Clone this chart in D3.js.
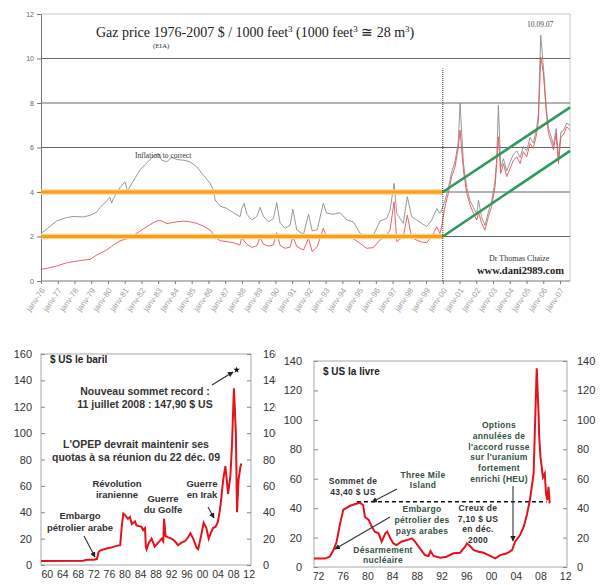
<!DOCTYPE html>
<html>
<head>
<meta charset="utf-8">
<script src="https://cdn.jsdelivr.net/npm/d3@7"></script>
<style>
  body { margin: 0; background: #fff; }
  svg { display: block; }
</style>
</head>
<body>
<svg id="chart" width="604" height="585"></svg>
<script>
// ---- Données : gaz naturel (EIA) 1976-2007, $ / 1000 pieds3 ----
const gasDates = [1976.00,1976.40,1976.94,1977.53,1977.93,1978.53,1978.93,1979.33,1979.53,1979.92,
  1980.12,1980.22,1980.32,1980.72,1981.02,1981.16,1981.52,1981.92,1982.31,1982.71,
  1983.01,1983.21,1983.51,1983.81,1984.11,1984.51,1984.90,1985.30,1985.70,1986.10,
  1986.30,1986.40,1986.70,1987.10,1987.49,1987.89,1987.99,1988.13,1988.30,1988.59,
  1988.89,1989.09,1989.29,1989.59,1989.88,1990.08,1990.28,1990.58,1990.88,1991.04,
  1991.28,1991.68,1991.98,1992.20,1992.50,1992.86,1993.06,1993.46,1993.86,1994.26,
  1994.66,1995.06,1995.45,1995.85,1996.25,1996.65,1996.85,1997.09,1997.25,1997.64,
  1997.88,1998.14,1998.44,1998.74,1999.04,1999.34,1999.64,1999.83,1999.93,2000.13,
  2000.33,2000.53,2000.73,2000.93,2001.03,2001.23,2001.43,2001.63,2001.83,2002.03,
  2002.13,2002.32,2002.52,2002.72,2002.92,2003.12,2003.22,2003.32,2003.46,2003.62,
  2003.82,2004.02,2004.22,2004.42,2004.62,2004.81,2005.01,2005.21,2005.41,2005.61,
  2005.71,2005.85,2006.01,2006.17,2006.31,2006.51,2006.61,2006.77,2006.91,2007.05,
  2007.20,2007.40,2007.60];
// prix corrigé de l'inflation (courbe grise)
const gasReal = [2.14,2.37,2.70,2.85,2.90,2.88,2.95,3.10,3.30,3.60,
  3.75,3.50,3.70,4.20,4.45,4.05,4.50,5.00,5.30,5.60,
  5.73,5.43,5.36,5.55,5.46,5.43,5.36,5.13,4.76,4.39,
  4.09,3.64,3.37,3.26,3.07,2.89,3.26,3.49,3.00,2.74,
  2.90,3.31,2.90,2.66,2.80,3.52,2.60,2.37,2.50,3.22,
  2.29,2.10,3.00,2.25,2.30,3.49,3.05,3.00,3.07,2.75,
  2.66,2.14,1.99,2.05,2.70,2.81,3.19,4.39,3.04,2.59,
  3.79,2.89,2.74,2.59,2.45,2.74,3.26,3.04,3.20,3.60,
  4.20,4.90,5.35,6.30,8.00,5.30,4.20,3.60,3.30,3.00,
  3.64,2.85,2.50,3.10,3.60,4.50,5.50,7.90,5.10,5.50,
  4.95,5.35,5.70,5.85,5.55,6.05,5.85,6.45,6.20,6.90,
  7.50,11.05,9.60,7.90,6.85,6.40,6.10,6.85,5.50,6.70,
  6.75,7.10,7.00];
// prix courant (courbe rouge)
const gasNominal = [0.52,0.58,0.67,0.82,0.87,0.94,0.97,1.17,1.25,1.39,
  1.50,1.55,1.62,1.80,1.88,1.90,2.05,2.25,2.44,2.62,
  2.72,2.70,2.58,2.62,2.66,2.69,2.66,2.59,2.47,2.29,
  2.10,1.96,1.81,1.77,1.72,1.62,2.00,1.80,1.65,1.51,
  1.58,1.95,1.65,1.57,1.62,2.17,1.60,1.47,1.52,1.99,
  1.55,1.39,1.92,1.32,1.55,2.37,1.99,1.92,2.02,1.95,
  1.90,1.69,1.47,1.50,1.84,2.07,2.30,3.56,1.77,1.99,
  2.96,1.95,1.84,1.75,1.72,2.00,2.44,2.14,2.44,3.34,
  3.94,4.69,5.13,6.03,6.78,4.99,3.94,3.41,3.04,2.74,
  3.10,2.59,2.29,2.89,3.34,4.24,5.28,6.48,4.83,5.28,
  4.69,5.06,5.43,5.58,5.28,5.81,5.58,6.18,5.96,6.63,
  7.23,10.07,9.33,7.68,6.63,6.18,5.88,6.63,5.28,6.48,
  6.56,6.93,6.78];
const gasTickYears = d3.range(1976, 2008);
const gasYTicks = [0, 2, 4, 6, 8, 10, 12];
const gasBands = [2, 4];                       // lignes orange
const gasChannelTop = [[2000, 4], [2007.6, 7.8]];   // canal vert
const gasChannelLow = [[2000, 2], [2007.6, 5.85]];

// ---- Pétrole, $ US le baril ----
const oilYears = [1958.5,1969.4,1970.3,1972.0,1972.9,1973.3,1973.7,1975.4,1976.3,1978.0,
  1978.9,1979.3,1979.7,1980.1,1980.9,1981.4,1981.9,1982.7,1983.1,1984.4,
  1984.8,1985.3,1985.5,1985.7,1986.3,1987.0,1987.8,1988.7,1989.6,1990.0,
  1990.2,1990.6,1991.3,1992.1,1993.0,1993.8,1994.7,1995.6,1996.4,1997.0,
  1997.7,1998.6,1999.0,1999.8,2000.4,2001.1,2001.7,2002.2,2002.8,2003.5,
  2004.1,2004.6,2005.0,2005.4,2006.0,2006.7,2007.3,2007.7,2008.2,2008.7,
  2009.0,2009.4,2009.9,2010.1];
const oilPrice = [3.0,3.2,4.0,4.0,4.5,9.5,11,12.5,13,14.5,
  15,29,39,38,35,36.5,31,33,30,29,
  26.5,28,14,12,17,20,14,17,20,18,
  35,22,21,20,18,15,17,18,21,24,
  20,13,12,23,32,28,20,24,28,29,
  33,42,52,64,75,54,68,91,134,100,
  40,65,75,77];
const oilRecord = [2008.9, 147.9];
const oilYTicks = [0, 20, 40, 60, 80, 100, 120, 140, 160];
const oilXTicks = d3.range(1960, 2013, 4);

// ---- Uranium, $ US la livre ----
const uraniumYears = [1971.35,1973.1,1973.9,1974.5,1975.0,1975.6,1976.1,1977.2,1978.3,1978.8,
  1979.3,1979.6,1980.2,1980.7,1981.2,1981.8,1982.3,1982.9,1983.2,1983.7,
  1984.2,1984.7,1985.5,1986.4,1987.2,1987.7,1988.5,1989.3,1989.9,1990.2,
  1990.7,1991.8,1992.8,1993.9,1995.0,1995.8,1996.1,1996.6,1997.2,1998.0,
  1998.8,1999.6,2000.7,2001.5,2002.6,2003.4,2003.9,2004.7,2005.3,2005.8,
  2006.3,2006.9,2007.1,2007.4,2007.7,2007.8,2008.0,2008.4,2008.7,2008.9,
  2009.1,2009.3,2009.5];
const uraniumPrice = [5.7,5.7,7,11.5,17,30,39,41.6,43.2,43.7,
  42,34,32,27.4,24,22.9,17.2,22.9,24,19.5,
  16,14.9,17.2,18.3,19.5,17.2,12.7,8.1,7.5,10.9,
  7.5,6.3,7,9.3,9.7,13.8,16,14.3,11.5,10.4,
  9.7,8.1,5.9,8.1,9.3,11.5,17.2,21.7,27.4,35.3,
  45.5,63.6,93,135,104,88.5,75,61,63.6,50,
  45.5,54.5,43.2];
const uraniumPeak = [[1978.3, 44.3], [2009.0, 44.3]];   // ligne pointillée 43,40 $
const uraniumYTicks = [0, 20, 40, 60, 80, 100, 120, 140];
const uraniumXTicks = d3.range(1972, 2013, 4);

const svg = d3.select('#chart');
const serif = '"Liberation Serif", "DejaVu Serif", serif';
const sans = '"Liberation Sans", Arial, sans-serif';

// fleche
svg.append('defs').append('marker')
  .attr('id', 'arrow').attr('viewBox', '0 0 10 10')
  .attr('refX', 9).attr('refY', 5)
  .attr('markerWidth', 5).attr('markerHeight', 5)
  .attr('orient', 'auto')
  .append('path').attr('d', 'M0,0 L10,5 L0,10 z').attr('fill', '#222');

function arrow(g, x1, y1, x2, y2, head) {
  const l = g.append('line')
    .attr('x1', x1).attr('y1', y1).attr('x2', x2).attr('y2', y2)
    .attr('stroke', '#333').attr('stroke-width', 1.1);
  if (head) l.attr('marker-end', 'url(#arrow)');
}

function textBlock(g, lines, x, y, dy, opts) {
  const t = g.append('text')
    .attr('font-family', sans).attr('font-weight', 'bold')
    .attr('font-size', opts.size).attr('fill', opts.color)
    .attr('text-anchor', opts.anchor || 'middle')
    .attr('letter-spacing', opts.ls || 0);
  lines.forEach((s, i) => t.append('tspan').attr('x', x).attr('y', y + i * dy).text(s));
}

// =================== Graphique du haut : gaz ===================
const gx = d3.scaleLinear().domain([1976, 2007]).range([41, 560]);
const gy = d3.scaleLinear().domain([0, 12]).range([281, 14]);
const gRight = gx(2007.6);
const gasG = svg.append('g');

// cadre
gasG.append('line').attr('x1', gx(1976)).attr('x2', gRight).attr('y1', gy(12)).attr('y2', gy(12))
  .attr('stroke', '#c8c8c8');
gasG.append('line').attr('x1', gRight).attr('x2', gRight).attr('y1', gy(12)).attr('y2', gy(0))
  .attr('stroke', '#c8c8c8');

// grille
gasG.selectAll('.grid').data([2, 4, 6, 8, 10]).join('line')
  .attr('x1', gx(1976)).attr('x2', gRight)
  .attr('y1', d => gy(d)).attr('y2', d => gy(d))
  .attr('stroke', '#555').attr('stroke-width', 0.9);

// axe Y
const gyAxis = gasG.append('g').attr('transform', `translate(${gx(1976)},0)`)
  .call(d3.axisLeft(gy).tickValues(gasYTicks).tickSize(4).tickSizeOuter(0));
gyAxis.select('.domain').attr('stroke', '#777');
gyAxis.selectAll('.tick line').attr('stroke', '#777');
gyAxis.selectAll('text').attr('font-family', sans).attr('font-size', 7).attr('fill', '#666');

// axe X
const gxAxis = gasG.append('g').attr('transform', `translate(0,${gy(0)})`)
  .call(d3.axisBottom(gx).tickValues(gasTickYears).tickSize(3).tickSizeOuter(0)
    .tickFormat(d => 'janv-' + String(d).slice(2)));
gxAxis.select('.domain').attr('stroke', '#777').attr('d', `M${gx(1976)},0H${gRight}`);
gxAxis.selectAll('.tick line').attr('stroke', '#777');
gxAxis.selectAll('text')
  .attr('font-family', sans).attr('font-size', 8).attr('fill', '#a0a0a0')
  .attr('text-anchor', 'end').attr('dy', 0)
  .attr('transform', 'translate(-1,6) rotate(-55)');

// séries
const gasLine = d3.line().x(d => gx(d[0])).y(d => gy(d[1]));
gasG.append('path').datum(d3.zip(gasDates, gasReal))
  .attr('d', gasLine).attr('fill', 'none').attr('stroke', '#8c8c8c').attr('stroke-width', 0.9);
gasG.append('path').datum(d3.zip(gasDates, gasNominal))
  .attr('d', gasLine).attr('fill', 'none').attr('stroke', '#e8505a').attr('stroke-width', 0.9);

// lignes orange
gasBands.forEach(v => {
  gasG.append('line').attr('x1', gx(1976)).attr('x2', gx(2000))
    .attr('y1', gy(v)).attr('y2', gy(v))
    .attr('stroke', '#fbd48a').attr('stroke-width', 5.5);
  gasG.append('line').attr('x1', gx(1976)).attr('x2', gx(2000))
    .attr('y1', gy(v)).attr('y2', gy(v))
    .attr('stroke', '#f5a01a').attr('stroke-width', 3);
});

// canal vert
[gasChannelTop, gasChannelLow].forEach(seg => {
  gasG.append('path').datum(seg).attr('d', gasLine)
    .attr('fill', 'none').attr('stroke', '#2f9a5c').attr('stroke-width', 2.6);
});

// pointillé vertical 2000
gasG.append('line').attr('x1', gx(2000)).attr('x2', gx(2000))
  .attr('y1', gy(0)).attr('y2', gy(9.55))
  .attr('stroke', '#333').attr('stroke-width', 1).attr('stroke-dasharray', '1,1');

// textes
const title = gasG.append('text').attr('x', 96).attr('y', 37)
  .attr('font-family', serif).attr('font-size', 14).attr('fill', '#222');
title.append('tspan').text('Gaz price 1976-2007 $ / 1000 feet');
title.append('tspan').attr('font-size', 9).attr('dy', -5).text('3');
title.append('tspan').attr('dy', 5).text(' (1000 feet');
title.append('tspan').attr('font-size', 9).attr('dy', -5).text('3');
title.append('tspan').attr('dy', 5).text(' \u2245 28 m');
title.append('tspan').attr('font-size', 9).attr('dy', -5).text('3');
title.append('tspan').attr('dy', 5).text(')');
gasG.append('text').attr('x', 153).attr('y', 48).attr('font-family', serif)
  .attr('font-size', 7).attr('fill', '#333').text('(EIA)');
gasG.append('text').attr('x', 135).attr('y', 158).attr('font-family', serif)
  .attr('font-size', 7.5).attr('fill', '#333').text('Inflation to correct');
gasG.append('text').attr('x', 527).attr('y', 27).attr('font-family', serif)
  .attr('font-size', 7.5).attr('fill', '#444').text('10.09.07');
gasG.append('text').attr('x', 489).attr('y', 261).attr('font-family', serif)
  .attr('font-size', 8).attr('fill', '#333').text('Dr Thomas Chaize');
gasG.append('text').attr('x', 477).attr('y', 274).attr('font-family', serif)
  .attr('font-weight', 'bold').attr('font-size', 10.5).attr('fill', '#222').text('www.dani2989.com');

// =================== Bas gauche : pétrole ===================
const ox = d3.scaleLinear().domain([1958.5, 2012.6]).range([41, 251]);
const oy = d3.scaleLinear().domain([0, 160]).range([565, 354]);
const oil = svg.append('g');

oil.append('rect').attr('x', ox.range()[0]).attr('y', oy(160))
  .attr('width', ox.range()[1] - ox.range()[0]).attr('height', oy(0) - oy(160))
  .attr('fill', '#fff').attr('stroke', '#a8a8a8');

const oyL = oil.append('g').attr('transform', `translate(${ox.range()[0]},0)`)
  .call(d3.axisLeft(oy).tickValues(oilYTicks).tickSize(-4).tickSizeOuter(0).tickPadding(9));
const oyR = oil.append('g').attr('transform', `translate(${ox.range()[1]},0)`)
  .call(d3.axisRight(oy).tickValues(oilYTicks).tickSize(-4).tickSizeOuter(0).tickPadding(12));
[oyL, oyR].forEach(a => {
  a.select('.domain').remove();
  a.selectAll('.tick line').attr('stroke', '#888');
  a.selectAll('text').attr('font-family', sans).attr('font-size', 11).attr('fill', '#333');
});
const oxA = oil.append('g').attr('transform', `translate(0,${oy(0)})`)
  .call(d3.axisBottom(ox).tickValues(oilXTicks).tickSize(0).tickPadding(6)
    .tickFormat(d => String(d).slice(2)));
oxA.select('.domain').remove();
oxA.selectAll('text').attr('font-family', sans).attr('font-size', 10.5).attr('fill', '#333');

oil.append('path').datum(d3.zip(oilYears, oilPrice))
  .attr('d', d3.line().x(d => ox(d[0])).y(d => oy(d[1])))
  .attr('fill', 'none').attr('stroke', '#e3121b').attr('stroke-width', 2);

oil.append('path').attr('d', d3.symbol(d3.symbolStar, 14)())
  .attr('transform', `translate(${ox(oilRecord[0])},${oy(oilRecord[1])})`).attr('fill', '#111');

textBlock(oil, ['$ US le baril'], 50, 363, 0, { size: 10, color: '#222', anchor: 'start' });
textBlock(oil, ['Nouveau sommet record :', '11 juillet 2008 : 147,90 $ US'], 145, 395, 13,
  { size: 10.5, color: '#333' });
textBlock(oil, ["L'OPEP devrait maintenir ses", 'quotas à sa réunion du 22 déc. 09'], 136, 448, 13,
  { size: 10.5, color: '#333' });
textBlock(oil, ['Révolution', 'iranienne'], 117, 487, 11, { size: 9.5, color: '#333' });
textBlock(oil, ['Guerre', 'du Golfe'], 163, 502, 11, { size: 9.5, color: '#333' });
textBlock(oil, ['Guerre', 'en Irak'], 202, 487, 11, { size: 9.5, color: '#333' });
textBlock(oil, ['Embargo', 'pétrolier arabe'], 80, 519, 12, { size: 9.5, color: '#333' });
arrow(oil, 212, 385, 233, 372, true);
arrow(oil, 84, 536, 95, 557, true);
arrow(oil, 208, 507, 214, 518, true);

// =================== Bas droite : uranium ===================
const ux = d3.scaleLinear().domain([1971.35, 2012.3]).range([314, 567]);
const uy = d3.scaleLinear().domain([0, 140]).range([567, 361]);
const ura = svg.append('g');

// panneau blanc (recouvre les libellés droits du graphique pétrole)
ura.append('rect').attr('x', 276).attr('y', 336).attr('width', 328).attr('height', 249).attr('fill', '#fff');
ura.append('rect').attr('x', ux.range()[0]).attr('y', uy(140))
  .attr('width', ux.range()[1] - ux.range()[0]).attr('height', uy(0) - uy(140))
  .attr('fill', '#fff').attr('stroke', '#a8a8a8');

const uyL = ura.append('g').attr('transform', `translate(${ux.range()[0]},0)`)
  .call(d3.axisLeft(uy).tickValues(uraniumYTicks).tickSize(-4).tickSizeOuter(0).tickPadding(12));
const uyR = ura.append('g').attr('transform', `translate(${ux.range()[1]},0)`)
  .call(d3.axisRight(uy).tickValues(uraniumYTicks).tickSize(-4).tickSizeOuter(0).tickPadding(10));
[uyL, uyR].forEach(a => {
  a.select('.domain').remove();
  a.selectAll('.tick line').attr('stroke', '#888');
  a.selectAll('text').attr('font-family', sans).attr('font-size', 11).attr('fill', '#333');
});
const uxA = ura.append('g').attr('transform', `translate(0,${uy(0)})`)
  .call(d3.axisBottom(ux).tickValues(uraniumXTicks).tickSize(0).tickPadding(6)
    .tickFormat(d => String(d).slice(2)));
uxA.select('.domain').remove();
uxA.selectAll('text').attr('font-family', sans).attr('font-size', 10.5).attr('fill', '#333');

ura.append('path').datum(uraniumPeak)
  .attr('d', d3.line().x(d => ux(d[0])).y(d => uy(d[1])))
  .attr('stroke', '#111').attr('stroke-width', 1.4).attr('stroke-dasharray', '4,3');

ura.append('path').datum(d3.zip(uraniumYears, uraniumPrice))
  .attr('d', d3.line().x(d => ux(d[0])).y(d => uy(d[1])))
  .attr('fill', 'none').attr('stroke', '#e3121b').attr('stroke-width', 2);

const green = '#35523f';
textBlock(ura, ['$ US la livre'], 323, 375, 0, { size: 10, color: '#222', anchor: 'start' });
textBlock(ura, ['Sommet de', '43,40 $ US'], 353, 484, 11, { size: 8.5, color: '#333', ls: 0.3 });
textBlock(ura, ['Three Mile', 'Island'], 423, 478, 10, { size: 8.5, color: green, ls: 0.3 });
textBlock(ura, ['Embargo', 'pétrolier des', 'pays arabes'], 422, 512, 11, { size: 8.5, color: green, ls: 0.3 });
textBlock(ura, ['Désarmement', 'nucléaire'], 383, 553, 10, { size: 8.5, color: green, ls: 0.3 });
textBlock(ura, ['Creux de', '7,10 $ US', 'en déc.', '2000'], 478, 511, 10.7, { size: 8.5, color: '#333', ls: 0.3 });
textBlock(ura, ['Options', 'annulées de', "l'accord russe", "sur l'uranium", 'fortement', 'enrichi (HEU)'],
  499, 428, 10.8, { size: 8.5, color: green, ls: 0.3 });
arrow(ura, 397, 489, 372, 502, true);
arrow(ura, 390, 517, 335, 549, true);
arrow(ura, 513, 486, 513, 541, true);
</script>
</body>
</html>
